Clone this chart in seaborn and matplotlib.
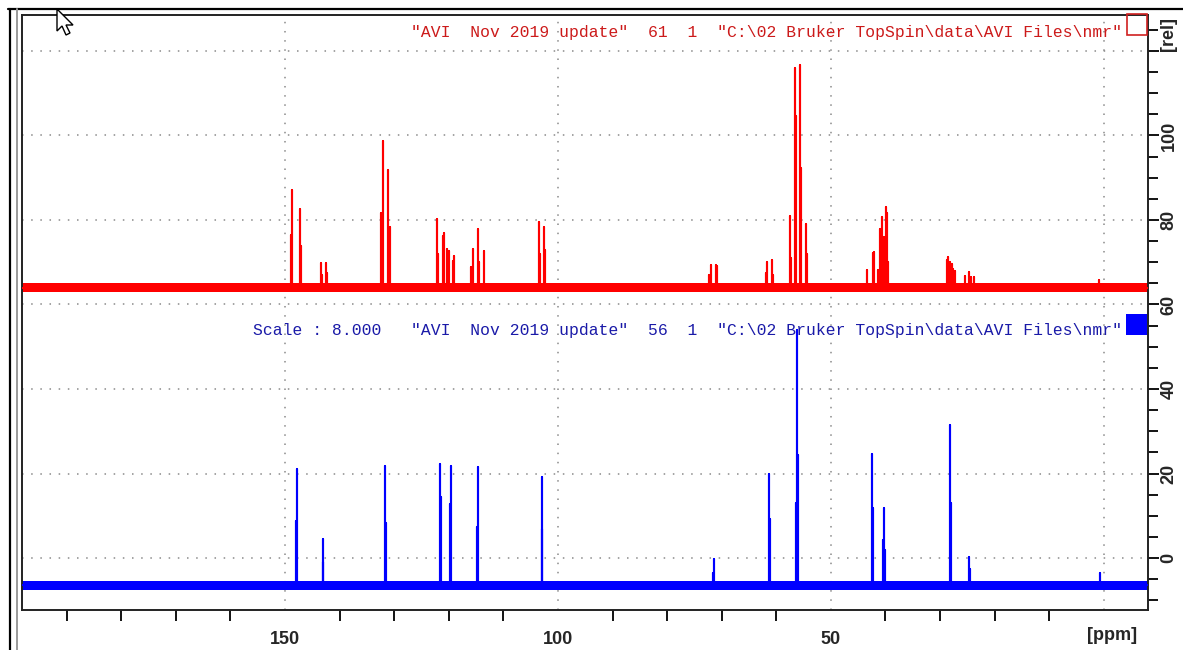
import matplotlib
matplotlib.use("Agg")
import numpy as np
import pandas as pd
import matplotlib.pyplot as plt
import seaborn as sns
from matplotlib.patches import Rectangle, Polygon
from matplotlib.lines import Line2D
from matplotlib.ticker import MultipleLocator

# ---------------- data ----------------
# top (red) 13C spectrum: peak positions [ppm] and apex heights [rel]
red_peak_ppm = [148.9, 148.66, 147.25, 147.15, 143.46, 143.3, 142.44, 142.3,
                132.35, 132.1, 131.1, 130.85, 122.1, 121.95, 121.0, 120.8,
                120.3, 120.05, 119.3, 119.05, 115.9, 115.6, 114.7, 114.55,
                113.6, 103.5, 103.35, 102.5, 102.35, 72.3, 71.98, 71.06, 70.9,
                61.9, 61.67, 60.8, 60.6, 57.45, 57.3, 56.6, 56.45, 55.68, 55.5,
                54.63, 54.45, 43.3, 42.3, 42.1, 41.3, 40.97, 40.66, 40.3, 39.93,
                39.7, 39.5, 28.8, 28.5, 28.2, 27.9, 27.6, 27.2, 25.46, 24.67,
                24.3, 23.76, 0.8]
red_peak_height = [76.4, 87.1, 82.6, 73.8, 69.8, 67.0, 69.8, 67.5,
                   81.7, 98.8, 91.8, 78.4, 80.2, 72.0, 76.2, 77.0,
                   73.1, 72.7, 70.4, 71.5, 68.9, 73.1, 77.8, 70.0,
                   72.7, 79.5, 72.0, 78.4, 73.0, 67.0, 69.3, 69.3, 69.0,
                   67.5, 70.1, 70.5, 67.0, 81.0, 71.0, 116.0, 104.5, 116.7, 92.4,
                   79.0, 72.0, 68.2, 72.2, 72.5, 68.2, 77.8, 80.6, 76.0, 83.1,
                   81.6, 70.0, 70.5, 71.3, 70.0, 69.5, 68.5, 68.0, 66.7, 67.8,
                   66.5, 66.4, 65.8]
# bottom (blue) spectrum, scale 8
blue_peak_ppm = [148.0, 147.86, 143.1, 142.99, 131.63, 131.5, 121.56, 121.45,
                 119.75, 119.6, 114.75, 114.6, 102.99, 102.85, 71.6, 71.48,
                 61.36, 61.2, 56.4, 56.28, 56.1, 42.5, 42.35, 40.4, 40.2, 40.0,
                 28.1, 27.95, 24.78, 24.6, 0.7]
blue_peak_height = [8.8, 21.1, -0.9, 4.4, 21.8, 8.2, 22.2, 14.5,
                    12.8, 21.8, 7.4, 21.5, 19.1, 6.9, -3.5, -0.2,
                    19.8, 9.2, 13.1, 54.0, 24.4, 24.5, 11.8, 4.3, 11.8, 1.9,
                    31.5, 13.1, 0.2, -2.5, -3.5]
red_baseline = 64.0
blue_baseline = -6.5
noise_halfwidth = 1.05
ppm_limits = [198.2, -8.1]
rel_limits = [-12.3, 128.5]
x_major_ticks = [150, 100, 50, 0]
x_tick_labels = ["150", "100", "50", ""]
y_major_ticks = [0, 20, 40, 60, 80, 100, 120]
y_tick_labels = ["0", "20", "40", "60", "80", "100", ""]
red_title = '"AVI  Nov 2019 update"  61  1  "C:\\02 Bruker TopSpin\\data\\AVI Files\\nmr"'
blue_title = 'Scale : 8.000   "AVI  Nov 2019 update"  56  1  "C:\\02 Bruker TopSpin\\data\\AVI Files\\nmr"'

# ---------------- build stick spectra ----------------
def stick_frame(ppm, height, base, name):
    order = np.argsort(ppm)[::-1]
    xs = [ppm_limits[0]]
    ys = [base]
    for i in order:
        xs += [ppm[i], ppm[i], ppm[i]]
        ys += [base, height[i], base]
    xs.append(ppm_limits[1])
    ys.append(base)
    return pd.DataFrame({"ppm": xs, "intensity": ys, "spectrum": name})

df = pd.concat([stick_frame(red_peak_ppm, red_peak_height, red_baseline, "top"),
                stick_frame(blue_peak_ppm, blue_peak_height, blue_baseline, "bottom")],
               ignore_index=True)

sns.set_theme(style="white")
plt.rcParams["font.family"] = ["Liberation Sans", "DejaVu Sans"]

W, H = 1183, 650
fig = plt.figure(figsize=(W / 100, H / 100), dpi=100)
ax = fig.add_axes([22 / W, 40 / H, 1126 / W, 595 / H])

# noisy baseline bands
for base, col in [(red_baseline, "#ff0000"), (blue_baseline, "#0000ff")]:
    ax.fill_between(ppm_limits, [base - noise_halfwidth] * 2, [base + noise_halfwidth] * 2,
                    color=col, lw=0, zorder=2)

sns.lineplot(data=df, x="ppm", y="intensity", hue="spectrum",
             palette={"top": "#ff0000", "bottom": "#0000ff"},
             sort=False, estimator=None, legend=False, lw=1.5, ax=ax, zorder=3)

ax.set_xlim(*ppm_limits)
ax.set_ylim(*rel_limits)
ax.set_xlabel("")
ax.set_ylabel("")
ax.yaxis.tick_right()
ax.set_xticks(x_major_ticks)
ax.set_xticklabels(x_tick_labels, fontweight="bold", fontsize=13)
ax.set_yticks(y_major_ticks)
ax.set_yticklabels(y_tick_labels, fontweight="bold", fontsize=13, rotation=90, va="center")
ax.xaxis.set_minor_locator(MultipleLocator(10))
ax.yaxis.set_minor_locator(MultipleLocator(5))
ax.tick_params(axis="x", which="major", direction="out", length=12, width=1.3, color="black", pad=3)
ax.tick_params(axis="x", which="minor", direction="out", length=8, width=1.3, color="black", bottom=True)
ax.tick_params(axis="y", which="major", direction="out", length=8, width=1.3, color="black", pad=1,
               right=True, left=False)
ax.tick_params(axis="y", which="minor", direction="out", length=7, width=1.3, color="black",
               right=True, left=False)
ax.grid(True, which="major", color="#8a8a8a", linestyle=(0, (1, 5)), lw=1.1)
ax.set_axisbelow(True)
for s in ax.spines.values():
    s.set_color("#222222")
    s.set_linewidth(1.4)

# unit labels
fig.text(1112 / W, 1 - 636 / H, "[ppm]", ha="center", va="center", fontsize=13, fontweight="bold")
fig.text(1169 / W, 1 - 34 / H, "[rel]", ha="center", va="center", fontsize=13, fontweight="bold",
         rotation=90)

# spectrum titles
fig.text(1122 / W, 1 - 32 / H, red_title, ha="right", va="center", family="Liberation Mono",
         fontsize=11.8, color="#cc1a1a")
fig.text(1122 / W, 1 - 331 / H, blue_title, ha="right", va="center", family="Liberation Mono",
         fontsize=11.8, color="#1a1aa8")
fig.add_artist(Rectangle((1127 / W, 1 - 35 / H), 20 / W, 21 / H, transform=fig.transFigure,
                         fill=False, edgecolor="#d02020", lw=1.2))
fig.add_artist(Rectangle((1126 / W, 1 - 335 / H), 21 / W, 21 / H, transform=fig.transFigure,
                         facecolor="#0000ff", edgecolor="#0000ff", lw=0))

# window frame lines
fig.add_artist(Line2D([8 / W, 1], [1 - 9 / H] * 2, transform=fig.transFigure, color="black", lw=1.6))
fig.add_artist(Line2D([10 / W] * 2, [0, 1 - 9 / H], transform=fig.transFigure, color="black", lw=1.6))
fig.add_artist(Line2D([17 / W] * 2, [0, 1 - 9 / H], transform=fig.transFigure, color="#9a9a9a", lw=1.4))

# mouse cursor
tip = (57, 9)
shape = [(0, 0), (0, 22), (5, 17), (9, 26), (13, 24), (9, 16), (16, 16)]
cur = [((tip[0] + dx) / W, 1 - (tip[1] + dy) / H) for dx, dy in shape]
fig.add_artist(Polygon(cur, closed=True, transform=fig.transFigure, facecolor="white",
                       edgecolor="black", lw=1.0, zorder=10))

fig.savefig("out.png", dpi=100)
